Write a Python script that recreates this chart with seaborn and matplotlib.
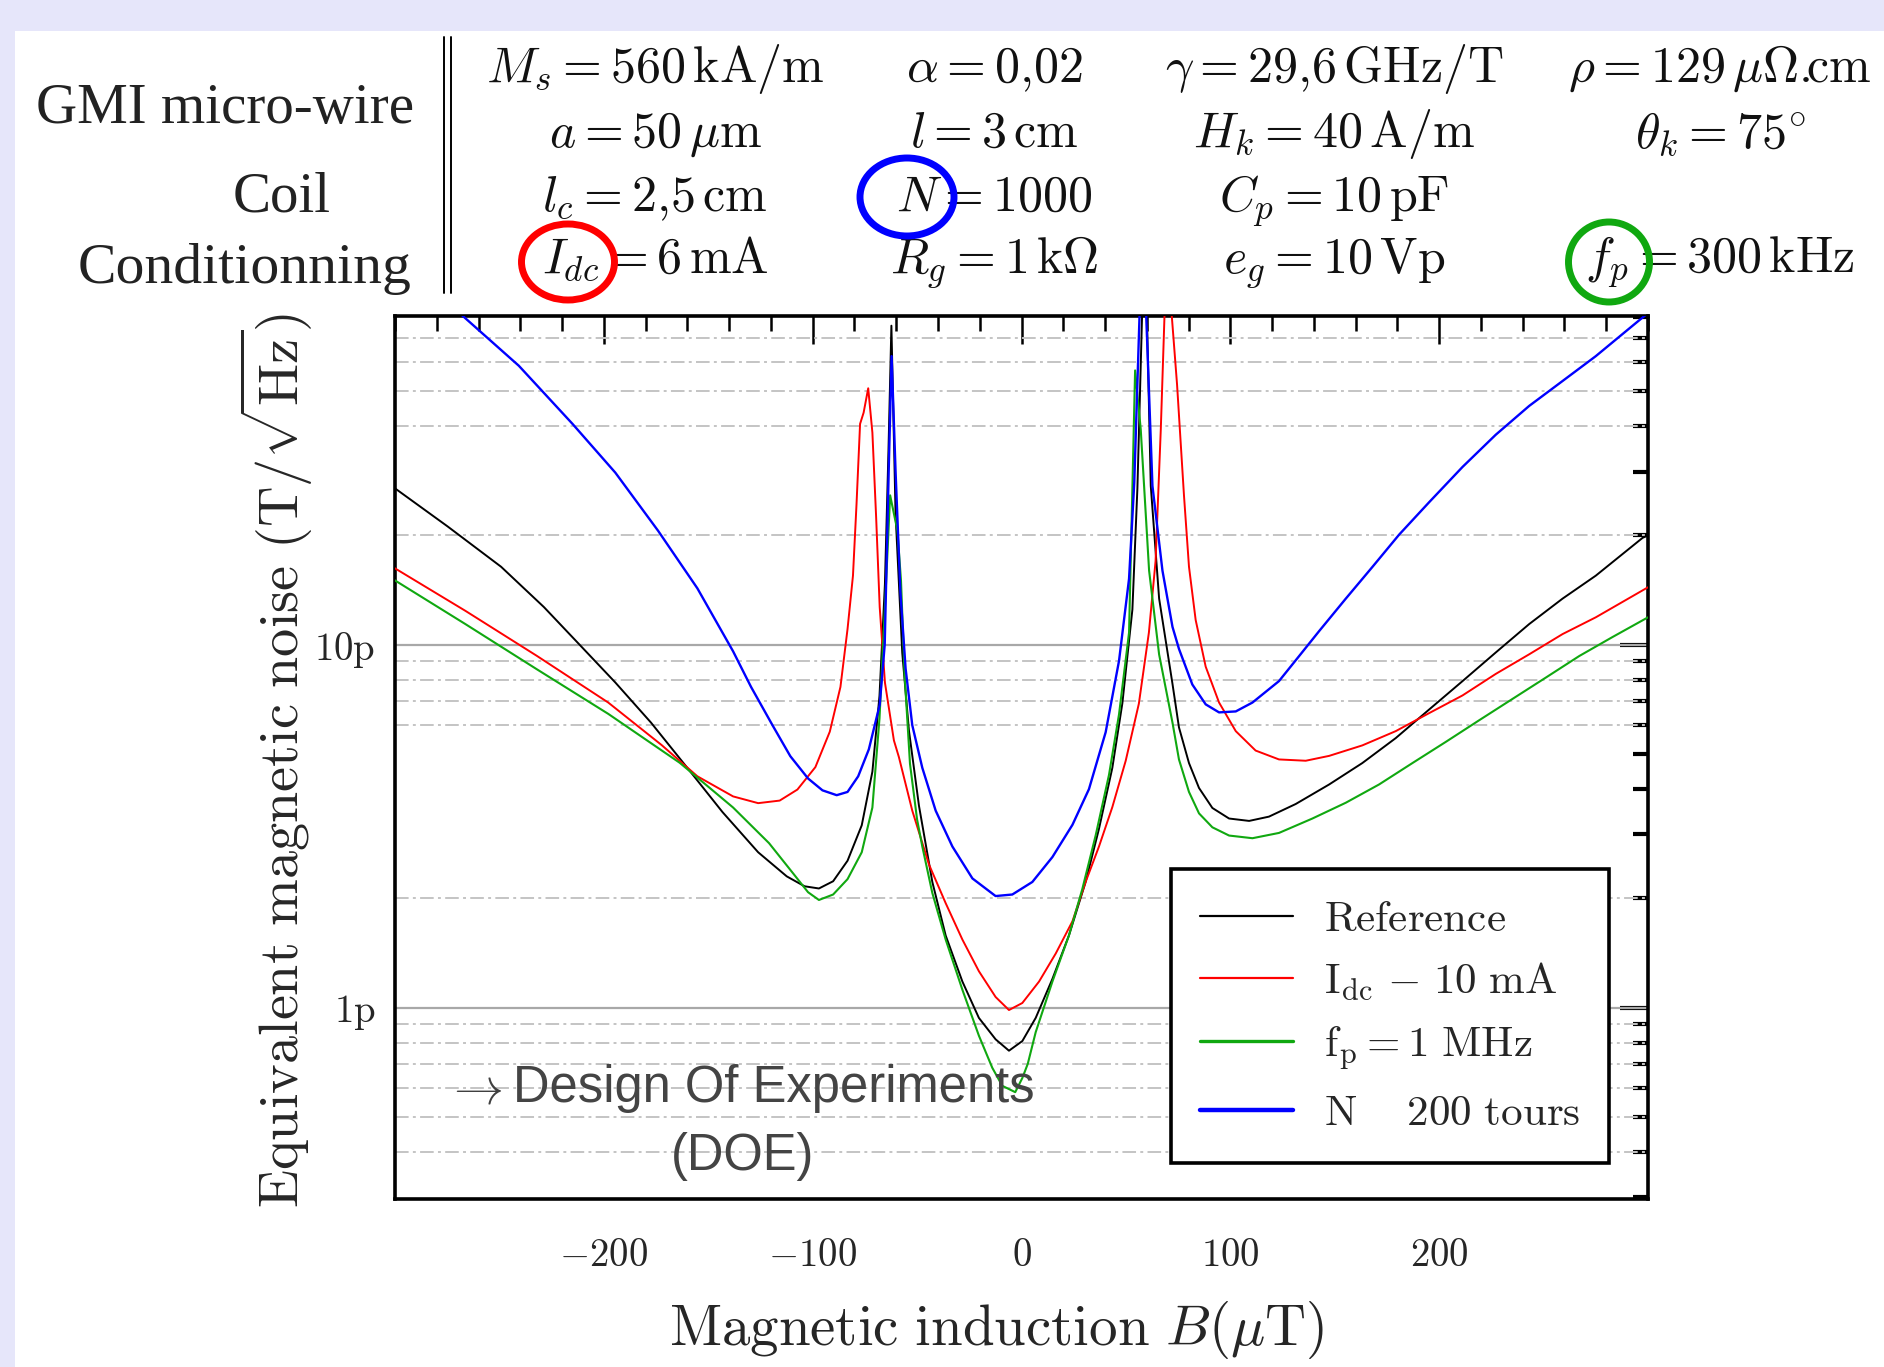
import numpy as np
import pandas as pd
import matplotlib
matplotlib.use("Agg")
import matplotlib.pyplot as plt
import seaborn as sns
from matplotlib.patches import Rectangle, Ellipse
from matplotlib.lines import Line2D
from matplotlib.ticker import FixedLocator, MultipleLocator, FuncFormatter, LogLocator, NullFormatter

# ---------------- data (B in uT, noise in pT/sqrt(Hz)) ----------------
ref_B = [-300.5, -274.9, -249.2, -228.7, -211.6, -194.5, -177.4, -160.3, -143.2, -126.1, -112.4,
         -103.9, -97, -90.2, -83.3, -76.5, -71.4, -68, -65.4, -63.7, -62.3, -60.3, -57.1, -53.9,
         -49.1, -42.7, -36.3, -28.3, -20.4, -12.4, -6, 0.4, 6.8, 14.8, 22.7, 30.7, 37.1, 43.5,
         48.3, 53.1, 55.5, 59, 61.9, 65.9, 72.3, 75.4, 80.2, 85, 91.4, 99.4, 109, 118.5, 131.3,
         147.3, 163.2, 179.2, 195.2, 211.2, 227.1, 243.1, 259.1, 275, 297.4, 300]
ref_pT = [27.1, 21.2, 16.4, 12.7, 10.0, 7.87, 6.10, 4.60, 3.46, 2.68, 2.30,
          2.16, 2.13, 2.23, 2.54, 3.18, 4.47, 7.23, 14.7, 34.3, 75.7, 22.9, 9.5, 5.8,
          3.6, 2.22, 1.58, 1.18, 0.937, 0.818, 0.761, 0.809, 0.937, 1.20, 1.58, 2.22, 3.11, 4.58,
          6.9, 12.5, 27, 150, 27.4, 13.4, 7.8, 5.92, 4.72, 4.03, 3.55, 3.32, 3.27, 3.36, 3.64,
          4.12, 4.72, 5.53, 6.63, 7.94, 9.52, 11.4, 13.4, 15.5, 19.7, 20.0]

idc_B = [-300.5, -266.3, -232.1, -197.9, -172.3, -155.2, -138.1, -126.1, -115.8, -107.3, -98.7,
         -91.8, -86.7, -83.3, -80.7, -79, -77.3, -75.6, -73.4, -71.4, -69.6, -67.9, -65.4, -61.1,
         -58.7, -52.3, -44.3, -36.3, -28.3, -20.4, -12.4, -6, 0.4, 8.4, 16.4, 24.4, 30.7, 37.1,
         43.5, 49.9, 56.2, 61, 64.2, 66.7, 70, 72, 74.5, 77.8, 80.2, 83.4, 88.2, 94.6, 102.6,
         112.1, 123.3, 136.1, 147.3, 163.2, 179.2, 195.2, 211.2, 227.1, 243.1, 259.1, 275, 300]
idc_pT = [16.3, 12.4, 9.32, 6.93, 5.29, 4.34, 3.82, 3.66, 3.72, 3.99, 4.6,
          5.76, 7.65, 11.05, 15.5, 24.4, 40.6, 43.6, 50.9, 38.4, 22.4, 12.7, 7.87, 5.45,
          4.9, 3.49, 2.48, 1.94, 1.54, 1.26, 1.07, 0.985, 1.03, 1.18, 1.41, 1.73, 2.22, 2.78,
          3.57, 4.79, 6.88, 10.8, 17.0, 39.2, 150, 80, 52, 25.8, 16.4, 11.7, 8.7, 6.93, 5.78,
          5.11, 4.83, 4.79, 4.94, 5.28, 5.78, 6.48, 7.25, 8.31, 9.41, 10.7, 11.9, 14.4]

fp_B = [-300.5, -266.3, -232.1, -197.9, -163.7, -138.1, -120.9, -109, -102.2, -97, -90.2, -83.3,
        -76.5, -71.4, -68, -65.4, -62.9, -59.4, -57.7, -56, -53.4, -50, -47.5, -42.7, -36.3,
        -28.3, -20.4, -14, -9.2, -3, 0.4, 3, 6.8, 14.8, 22.7, 29.1, 35.5, 41.9, 46.7, 51.5,
        54.4, 57.1, 61.1, 65.9, 72.3, 75.4, 80.2, 85, 91.4, 99.4, 110.6, 123.3, 139.3, 155.3,
        171.2, 187.2, 203.2, 219.1, 235.1, 251.1, 267.1, 283, 300]
fp_pT = [15.1, 11.4, 8.56, 6.45, 4.73, 3.56, 2.84, 2.33, 2.08, 1.98, 2.05, 2.26,
         2.68, 3.56, 6.27, 12.7, 25.8, 20.6, 15.0, 8.3, 4.7, 3.3, 2.78, 2.07, 1.54,
         1.12, 0.837, 0.683, 0.609, 0.585, 0.64, 0.70, 0.856, 1.18, 1.58, 2.12, 2.98, 4.38, 6.43, 10.8,
         57, 39.2, 16.0, 9.4, 6.1, 4.83, 3.93, 3.43, 3.14, 2.98, 2.93, 3.03, 3.32, 3.67,
         4.12, 4.72, 5.40, 6.19, 7.09, 8.12, 9.31, 10.5, 11.9]

n_B = [-300.5, -267.2, -240.7, -215, -194.5, -174, -155.2, -138.1, -129.5, -119.3, -110.7,
       -102.2, -95.3, -88.5, -83.3, -78.2, -73.1, -67.9, -65.5, -63.6, -62.2, -60.3, -58, -55.5,
       -52.3, -47.5, -41.1, -33.1, -23.5, -12.4, -4.4, 5.2, 14.8, 24.4, 32.3, 40.3, 46.7, 51.5,
       54, 58, 62.7, 67.5, 72.3, 75.4, 81.8, 88.2, 94.6, 102.6, 110.6, 123.3, 132.9, 142.5,
       155.3, 168.1, 180.8, 195.2, 211.2, 227.1, 243.1, 259.1, 275, 294.2, 300]
n_pT = [118, 80.2, 58.7, 40.6, 29.8, 20.6, 14.3, 9.59, 7.65, 6.01, 4.93,
        4.28, 3.97, 3.85, 3.93, 4.34, 5.15, 6.83, 10, 30, 62.4, 30, 14, 8.6,
        6.0, 4.58, 3.49, 2.78, 2.27, 2.03, 2.05, 2.22, 2.6, 3.19, 4.0, 5.74, 9.03, 15.2,
        28, 150, 27.4, 16.0, 11.2, 9.74, 7.77, 6.85, 6.51, 6.55, 6.93, 7.94, 9.3, 10.9,
        13.4, 16.4, 20.1, 24.7, 30.9, 37.9, 45.5, 53.3, 62.4, 77, 82]

series_labels = [r"$\mathrm{Reference}$",
                 r"$\mathrm{I_{dc}}\ {-}\ \mathrm{10\ mA}$",
                 r"$\mathrm{f_p = 1\ MHz}$",
                 r"$\mathrm{N}\quad\ \mathrm{200\ tours}$"]
series_colors = ["#000000", "#ff0000", "#10a810", "#0000ff"]
series_lw = [1.4, 1.4, 1.5, 1.7]
legend_lw = [1.6, 1.6, 2.4, 3.2]

x_major = [-200, -100, 0, 100, 200]
y_major = [1e-12, 1e-11]
y_major_labels = [r"$\mathrm{1p}$", r"$\mathrm{10p}$"]
grid_minor_pT = [0.4, 0.5, 0.6, 0.7, 0.8, 0.9, 2, 6, 7, 8, 9, 20, 40, 50, 60, 70]

row_labels = ["GMI micro-wire", "Coil", "Conditionning"]
param_table = [
    [r"$M_s = 560\,\mathrm{kA}/\mathrm{m}$", r"$\alpha = 0{,}02$",
     r"$\gamma = 29{,}6\,\mathrm{GHz}/\mathrm{T}$", r"$\rho = 129\,\mu\Omega.\!\!\mathrm{cm}$"],
    [r"$a = 50\,\mu\mathrm{m}$", r"$l = 3\,\mathrm{cm}$",
     r"$H_k = 40\,\mathrm{A}/\mathrm{m}$", r"$\theta_k = 75^{\circ}$"],
    [r"$l_c = 2{,}5\,\mathrm{cm}$", r"$N = 1000$", r"$C_p = 10\,\mathrm{pF}$", ""],
    [r"$I_{dc} = 6\,\mathrm{mA}$", r"$R_g = 1\,\mathrm{k}\Omega$",
     r"$e_g = 10\,\mathrm{Vp}$", r"$f_p = 300\,\mathrm{kHz}$"],
]

# ---------------- style ----------------
sns.set_style("white")
plt.rcParams["mathtext.fontset"] = "cm"
plt.rcParams["font.family"] = ["DejaVu Serif"]

W, H = 1884, 1367
fig = plt.figure(figsize=(W / 100, H / 100), dpi=100, facecolor="#E6E6FA")
fig.add_artist(Rectangle((15 / W, 0), 1, (H - 31) / H, transform=fig.transFigure,
                         facecolor="white", edgecolor="none", zorder=-10))

def fx(px):
    return px / W

def fy(py):
    return 1 - py / H

ax_l, ax_r, ax_t, ax_b = 395, 1648, 316, 1199
ax = fig.add_axes([fx(ax_l), fy(ax_b), (ax_r - ax_l) / W, (ax_b - ax_t) / H])
ax.set_facecolor("white")

# curves
all_series = [(ref_B, ref_pT), (idc_B, idc_pT), (fp_B, fp_pT), (n_B, n_pT)]
for (bx, vy), lab, col, lw in zip(all_series, series_labels, series_colors, series_lw):
    df = pd.DataFrame({"B": bx, "noise": np.array(vy) * 1e-12})
    sns.lineplot(data=df, x="B", y="noise", color=col, lw=lw, label=lab, ax=ax,
                 estimator=None, sort=False, zorder=3)

ax.set_yscale("log")
ax.set_xlim(-300, 300)
ax.set_ylim(0.297e-12, 80.5e-12)

# grid
for v in y_major:
    ax.axhline(v, color="#a8a8a8", lw=1.6, zorder=1)
for v in grid_minor_pT:
    ax.axhline(v * 1e-12, color="#c4c4c4", lw=1.4, ls=(0, (7, 2.2, 1.5, 2.2)), zorder=1)

# ticks
ax.xaxis.set_major_locator(FixedLocator(x_major))
ax.xaxis.set_minor_locator(MultipleLocator(20))
ax.xaxis.set_major_formatter(FuncFormatter(lambda v, p: rf"${v:.0f}$"))
ax.set_yticks(y_major, labels=y_major_labels)
ax.yaxis.set_minor_locator(LogLocator(base=10, subs=np.arange(2, 10), numticks=30))
ax.yaxis.set_minor_formatter(NullFormatter())
ax.tick_params(which="both", direction="in", top=True, right=True, color="black")
ax.tick_params(which="major", length=20, width=1.8)
ax.tick_params(which="minor", length=11, width=1.8)
ax.tick_params(axis="y", which="both", width=3)
ax.tick_params(axis="x", which="major", labelsize=28, pad=27)
ax.tick_params(axis="y", which="major", labelsize=28, pad=14)
for s in ax.spines.values():
    s.set_linewidth(2.6)
    s.set_color("black")

ax.set_xlabel(r"$\mathrm{Magnetic\ induction\ }B(\mu\mathrm{T})$", fontsize=41)
ax.xaxis.label.set_va("center")
ax.xaxis.set_label_coords((997 - ax_l) / (ax_r - ax_l), -(1330 - ax_b) / (ax_b - ax_t))
ax.set_ylabel(r"$\mathrm{Equivalent\ magnetic\ noise\ (T/\sqrt{Hz})}$", fontsize=40.5)
ax.yaxis.label.set_va("center")
ax.yaxis.set_label_coords((276 - ax_l) / (ax_r - ax_l), 0.497)

# legend
leg = ax.legend(loc="upper left", bbox_to_anchor=((1171 - ax_l) / (ax_r - ax_l), (ax_b - 869) / (ax_b - ax_t)),
                borderaxespad=0, fontsize=31, frameon=True, fancybox=False, framealpha=1,
                edgecolor="black", borderpad=0.68, labelspacing=0.47, handlelength=2.15,
                handletextpad=0.72)
leg.get_frame().set_linewidth(2.6)
leg.set_zorder(6)
for ln, lw in zip(leg.get_lines(), legend_lw):
    ln.set_linewidth(lw)

# DOE annotation
fig.text(fx(474), fy(1090), r"$\rightarrow$", fontsize=36, color="#404040", ha="center", va="center", zorder=8)
fig.text(fx(513), fy(1102), "Design Of Experiments", fontsize=36.5, family="Liberation Sans",
         color="#444444", ha="left", va="baseline", zorder=8)
fig.text(fx(743), fy(1170), "(DOE)", fontsize=36.5, family="Liberation Sans",
         color="#444444", ha="center", va="baseline", zorder=8)

# header
fig.text(fx(36), fy(123), row_labels[0], fontsize=41, family="Liberation Serif", ha="left", va="baseline", color="#222222")
fig.text(fx(233), fy(212), row_labels[1], fontsize=41, family="Liberation Serif", ha="left", va="baseline", color="#222222")
fig.text(fx(78), fy(283), row_labels[2], fontsize=41.5, family="Liberation Serif", ha="left", va="baseline", color="#222222")
for xv in (444, 451):
    fig.add_artist(Line2D([fx(xv)] * 2, [fy(37), fy(293)], transform=fig.transFigure, color="black", lw=1.4))
col_x = [655, 994, 1334, 1720]
row_y = [82, 147, 211, 272]
for r, row in enumerate(param_table):
    for c, s in enumerate(row):
        if s:
            fig.text(fx(col_x[c]), fy(row_y[r]), s, fontsize=36, ha="center", va="baseline", color="#111111")

for (cx, cy, w, h, col) in [(568, 262, 93, 76, "#ff0000"), (907, 197, 94, 78, "#0000ff"),
                            (1609, 262, 81, 80, "#10a810")]:
    fig.add_artist(Ellipse((fx(cx), fy(cy)), w / W, h / H, transform=fig.transFigure,
                           fill=False, edgecolor=col, lw=5, zorder=9))

fig.savefig("out.png", dpi=100, facecolor=fig.get_facecolor())
